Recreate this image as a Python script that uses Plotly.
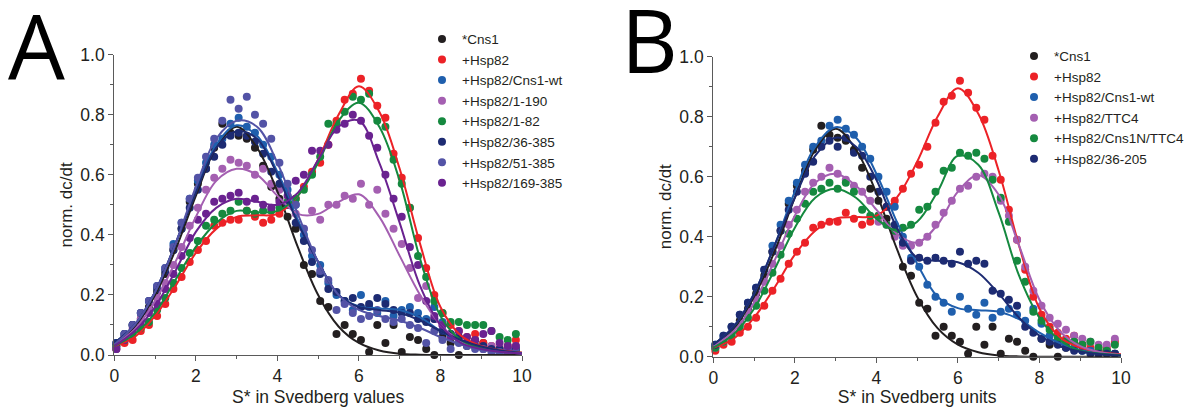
import plotly.graph_objects as go

# ---------------- data ----------------
# sampled S* positions of the measured points
S_PTS = [0.05, 0.25, 0.45, 0.65, 0.85, 1.05, 1.25, 1.45, 1.65, 1.85,
         2.05, 2.25, 2.45, 2.65, 2.85, 3.05, 3.25, 3.45, 3.65, 3.85,
         4.05, 4.25, 4.45, 4.65, 4.85, 5.05, 5.25, 5.45, 5.65, 5.85,
         6.05, 6.25, 6.45, 6.65, 6.85, 7.05, 7.25, 7.45, 7.65, 7.85,
         8.05, 8.25, 8.45, 8.65, 8.85, 9.05, 9.25, 9.45, 9.65, 9.85]
# S* positions of the fitted curves
S_FIT = [0, 0.5, 1, 1.5, 2, 2.5, 3, 3.5, 4, 4.5, 5, 5.5, 6, 6.5, 7, 7.5, 8, 8.5, 9, 9.5, 10]

# measured points
cns1_pts = [0.03, 0.06, 0.10, 0.12, 0.16, 0.21, 0.27, 0.35, 0.42, 0.51,
            0.57, 0.62, 0.69, 0.77, 0.74, 0.73, 0.72, 0.69, 0.63, 0.56,
            0.52, 0.46, 0.42, 0.30, 0.27, 0.18, 0.16, 0.07, 0.10, 0.07,
            0.05, 0.01, 0.10, 0.04, 0.10, 0.01, 0.06, 0.05, 0.02, 0.00,
            0.06, 0.04, 0.00, 0.03, 0.05, 0.04, 0.02, 0.01, 0.02, 0.01]
hsp82_pts = [0.02, 0.04, 0.05, 0.08, 0.10, 0.13, 0.17, 0.22, 0.26, 0.31,
             0.35, 0.38, 0.43, 0.44, 0.45, 0.45, 0.48, 0.46, 0.44, 0.45,
             0.47, 0.50, 0.52, 0.56, 0.61, 0.64, 0.70, 0.78, 0.85, 0.87,
             0.92, 0.88, 0.83, 0.79, 0.67, 0.59, 0.49, 0.39, 0.29, 0.20,
             0.14, 0.10, 0.08, 0.06, 0.07, 0.04, 0.03, 0.02, 0.03, 0.05]
cns1wt_pts = [0.04, 0.07, 0.10, 0.14, 0.18, 0.23, 0.29, 0.37, 0.44, 0.52,
              0.58, 0.64, 0.70, 0.72, 0.77, 0.79, 0.76, 0.74, 0.70, 0.66,
              0.60, 0.55, 0.50, 0.40, 0.33, 0.30, 0.24, 0.20, 0.18, 0.15,
              0.20, 0.16, 0.14, 0.18, 0.13, 0.15, 0.16, 0.14, 0.12, 0.16,
              0.11, 0.07, 0.05, 0.04, 0.03, 0.02, 0.02, 0.01, 0.02, 0.01]
h1_190_pts = [0.03, 0.06, 0.09, 0.12, 0.15, 0.19, 0.24, 0.30, 0.36, 0.43,
              0.49, 0.55, 0.59, 0.62, 0.65, 0.64, 0.63, 0.60, 0.62, 0.57,
              0.55, 0.50, 0.47, 0.42, 0.48, 0.45, 0.50, 0.50, 0.53, 0.52,
              0.57, 0.50, 0.55, 0.47, 0.42, 0.37, 0.29, 0.19, 0.23, 0.12,
              0.10, 0.07, 0.05, 0.04, 0.03, 0.02, 0.03, 0.02, 0.01, 0.03]
h1_82_pts = [0.03, 0.05, 0.07, 0.09, 0.11, 0.15, 0.19, 0.24, 0.29, 0.34,
             0.38, 0.43, 0.45, 0.47, 0.48, 0.51, 0.48, 0.47, 0.48, 0.48,
             0.49, 0.51, 0.52, 0.55, 0.60, 0.66, 0.77, 0.77, 0.81, 0.86,
             0.85, 0.87, 0.78, 0.76, 0.65, 0.57, 0.49, 0.33, 0.26, 0.18,
             0.14, 0.11, 0.11, 0.10, 0.10, 0.10, 0.08, 0.06, 0.05, 0.07]
h36_385_pts = [0.04, 0.07, 0.10, 0.14, 0.18, 0.22, 0.28, 0.35, 0.42, 0.49,
               0.55, 0.62, 0.66, 0.70, 0.73, 0.74, 0.73, 0.71, 0.67, 0.61,
               0.57, 0.50, 0.44, 0.38, 0.31, 0.27, 0.22, 0.21, 0.18, 0.19,
               0.16, 0.17, 0.19, 0.17, 0.15, 0.14, 0.14, 0.12, 0.11, 0.12,
               0.08, 0.07, 0.06, 0.04, 0.03, 0.03, 0.02, 0.02, 0.01, 0.02]
h51_385_pts = [0.02, 0.07, 0.10, 0.14, 0.18, 0.23, 0.29, 0.36, 0.44, 0.52,
               0.59, 0.66, 0.72, 0.78, 0.85, 0.82, 0.86, 0.80, 0.77, 0.72,
               0.64, 0.57, 0.50, 0.42, 0.35, 0.28, 0.25, 0.15, 0.17, 0.14,
               0.12, 0.13, 0.15, 0.12, 0.11, 0.12, 0.10, 0.09, 0.04, 0.08,
               0.05, 0.02, 0.04, 0.03, 0.02, 0.02, 0.01, 0.01, 0.02, 0.01]
h169_385_pts = [0.02, 0.05, 0.08, 0.11, 0.14, 0.17, 0.22, 0.27, 0.33, 0.39,
                0.45, 0.47, 0.51, 0.52, 0.53, 0.54, 0.51, 0.52, 0.50, 0.49,
                0.51, 0.53, 0.58, 0.60, 0.68, 0.68, 0.70, 0.75, 0.77, 0.80,
                0.78, 0.73, 0.69, 0.60, 0.52, 0.46, 0.36, 0.30, 0.18, 0.13,
                0.10, 0.06, 0.08, 0.06, 0.05, 0.07, 0.08, 0.04, 0.03, 0.03]
ttc4_pts = [0.03, 0.05, 0.08, 0.11, 0.15, 0.19, 0.25, 0.31, 0.37, 0.44,
            0.49, 0.55, 0.58, 0.60, 0.63, 0.61, 0.59, 0.57, 0.55, 0.52,
            0.45, 0.44, 0.40, 0.37, 0.37, 0.38, 0.40, 0.44, 0.48, 0.52,
            0.56, 0.57, 0.60, 0.61, 0.60, 0.52, 0.47, 0.39, 0.30, 0.22,
            0.17, 0.13, 0.11, 0.09, 0.07, 0.06, 0.05, 0.04, 0.04, 0.06]
cns1n_ttc4_pts = [0.03, 0.05, 0.07, 0.10, 0.13, 0.17, 0.22, 0.28, 0.34, 0.41,
                  0.46, 0.51, 0.55, 0.56, 0.58, 0.56, 0.58, 0.55, 0.49, 0.47,
                  0.47, 0.44, 0.42, 0.43, 0.44, 0.49, 0.50, 0.55, 0.62, 0.63,
                  0.68, 0.67, 0.68, 0.66, 0.59, 0.53, 0.45, 0.32, 0.25, 0.15,
                  0.12, 0.09, 0.06, 0.05, 0.05, 0.04, 0.05, 0.03, 0.02, 0.04]
h36_205_pts = [0.04, 0.07, 0.10, 0.14, 0.18, 0.23, 0.29, 0.35, 0.42, 0.49,
               0.55, 0.61, 0.65, 0.70, 0.72, 0.70, 0.73, 0.68, 0.67, 0.60,
               0.55, 0.50, 0.44, 0.38, 0.32, 0.33, 0.32, 0.33, 0.32, 0.31,
               0.35, 0.31, 0.32, 0.31, 0.22, 0.21, 0.19, 0.17, 0.10, 0.08,
               0.06, 0.05, 0.04, 0.03, 0.02, 0.02, 0.01, 0.01, 0.01, 0.01]

# fitted curves
cns1_fit = [0.04, 0.095, 0.20, 0.35, 0.53, 0.69, 0.76, 0.69, 0.545, 0.36, 0.20,
            0.095, 0.04, 0.015, 0.004, 0.001, 0, 0, 0, 0, 0]
hsp82_fit = [0.03, 0.06, 0.13, 0.23, 0.34, 0.42, 0.46, 0.465, 0.47, 0.53, 0.65,
             0.80, 0.895, 0.81, 0.62, 0.37, 0.16, 0.065, 0.03, 0.015, 0.008]
cns1wt_fit = [0.04, 0.10, 0.21, 0.37, 0.55, 0.70, 0.765, 0.73, 0.61, 0.45, 0.31,
              0.20, 0.162, 0.155, 0.15, 0.125, 0.08, 0.045, 0.022, 0.011, 0.006]
h1_190_fit = [0.035, 0.085, 0.18, 0.31, 0.46, 0.58, 0.62, 0.60, 0.53, 0.47, 0.47,
              0.51, 0.535, 0.46, 0.33, 0.20, 0.10, 0.045, 0.02, 0.01, 0.005]
h1_82_fit = [0.03, 0.07, 0.14, 0.25, 0.36, 0.44, 0.48, 0.475, 0.48, 0.53, 0.64,
             0.78, 0.84, 0.76, 0.58, 0.32, 0.13, 0.05, 0.022, 0.012, 0.007]
h36_385_fit = [0.04, 0.10, 0.21, 0.37, 0.54, 0.69, 0.745, 0.72, 0.60, 0.44, 0.31,
               0.20, 0.16, 0.15, 0.14, 0.115, 0.08, 0.05, 0.028, 0.014, 0.007]
h51_385_fit = [0.035, 0.10, 0.21, 0.37, 0.56, 0.72, 0.78, 0.76, 0.64, 0.47, 0.31,
               0.20, 0.15, 0.13, 0.115, 0.09, 0.06, 0.035, 0.018, 0.009, 0.005]
h169_385_fit = [0.03, 0.08, 0.16, 0.28, 0.41, 0.49, 0.52, 0.51, 0.50, 0.54, 0.65,
                0.76, 0.78, 0.64, 0.44, 0.23, 0.10, 0.04, 0.02, 0.01, 0.005]
ttc4_fit = [0.035, 0.085, 0.18, 0.32, 0.47, 0.58, 0.61, 0.57, 0.49, 0.41, 0.38,
            0.44, 0.55, 0.605, 0.54, 0.37, 0.19, 0.085, 0.035, 0.015, 0.006]
cns1n_ttc4_fit = [0.03, 0.075, 0.16, 0.29, 0.43, 0.53, 0.56, 0.53, 0.46, 0.42, 0.45,
                  0.55, 0.67, 0.64, 0.48, 0.27, 0.13, 0.055, 0.02, 0.01, 0.005]
h36_205_fit = [0.04, 0.10, 0.21, 0.37, 0.53, 0.67, 0.73, 0.70, 0.59, 0.43, 0.33,
               0.32, 0.315, 0.28, 0.21, 0.13, 0.07, 0.035, 0.017, 0.008, 0.004]

X_TICKS = [0, 2, 4, 6, 8, 10]
Y_TICKS = [0.0, 0.2, 0.4, 0.6, 0.8, 1.0]

COL = {
    "black": "#231f20", "red": "#ec2227", "blue": "#1f5fad", "lilac": "#a45fb1",
    "green": "#15893f", "navy": "#1d2b72", "slate": "#5353a6", "purple": "#6a2290",
}

panel_a = [
    ("*Cns1", cns1_pts, cns1_fit, "black"),
    ("+Hsp82", hsp82_pts, hsp82_fit, "red"),
    ("+Hsp82/Cns1-wt", cns1wt_pts, cns1wt_fit, "blue"),
    ("+Hsp82/1-190", h1_190_pts, h1_190_fit, "lilac"),
    ("+Hsp82/1-82", h1_82_pts, h1_82_fit, "green"),
    ("+Hsp82/36-385", h36_385_pts, h36_385_fit, "navy"),
    ("+Hsp82/51-385", h51_385_pts, h51_385_fit, "slate"),
    ("+Hsp82/169-385", h169_385_pts, h169_385_fit, "purple"),
]
panel_b = [
    ("*Cns1", cns1_pts, cns1_fit, "black"),
    ("+Hsp82", hsp82_pts, hsp82_fit, "red"),
    ("+Hsp82/Cns1-wt", cns1wt_pts, cns1wt_fit, "blue"),
    ("+Hsp82/TTC4", ttc4_pts, ttc4_fit, "lilac"),
    ("+Hsp82/Cns1N/TTC4", cns1n_ttc4_pts, cns1n_ttc4_fit, "green"),
    ("+Hsp82/36-205", h36_205_pts, h36_205_fit, "navy"),
]

fig = go.Figure()

def add_panel(series, xa, ya, legend):
    for name, pts, fit, c in series:
        fig.add_trace(go.Scatter(x=S_PTS, y=pts, mode="markers", name=name,
                                 marker=dict(size=8, color=COL[c]),
                                 xaxis=xa, yaxis=ya, legend=legend, cliponaxis=False))
    for name, pts, fit, c in series:
        fig.add_trace(go.Scatter(x=S_FIT, y=fit, mode="lines", name=name,
                                 line=dict(color=COL[c], width=2, shape="spline", smoothing=1.0),
                                 xaxis=xa, yaxis=ya, showlegend=False, hoverinfo="skip"))

add_panel(panel_a, "x", "y", "legend")
add_panel(panel_b, "x2", "y2", "legend2")

# the page body has an 8px margin, so the figure is 16px smaller than the window
W, H = 1188, 399
AX_COL = "#5a5a5a"
TXT = "#231f20"
FONT = "Liberation Sans, Arial, sans-serif"

def px(x):
    return x / W

def py(y):
    return 1 - y / H

def xax(domain, title):
    return dict(domain=domain, range=[0, 10], tickvals=X_TICKS, ticks="outside",
                ticklen=5, tickwidth=1.3, tickcolor=AX_COL, showline=True,
                linecolor=AX_COL, linewidth=1.3, showgrid=False, zeroline=False,
                automargin=False,
                minor=dict(ticks="outside", ticklen=3, dtick=1, tickcolor=AX_COL, tickwidth=1.2),
                tickfont=dict(size=17.5, color=TXT, family=FONT),
                title=dict(text=title, font=dict(size=17.5, color=TXT, family=FONT), standoff=15))

def yax(domain, anchor):
    return dict(domain=domain, range=[0, 1], tickvals=Y_TICKS, tickformat=".1f",
                ticks="outside", ticklen=5, tickwidth=1.3, tickcolor=AX_COL,
                showline=True, linecolor=AX_COL, linewidth=1.3, showgrid=False,
                zeroline=False, anchor=anchor, automargin=False,
                minor=dict(ticks="outside", ticklen=3, dtick=0.1, tickcolor=AX_COL, tickwidth=1.2),
                tickfont=dict(size=17.5, color=TXT, family=FONT),
                title=dict(text="norm. dc/dt", font=dict(size=17, color=TXT, family=FONT), standoff=3))

fig.update_layout(
    template="none",
    width=W, height=H, margin=dict(l=0, r=0, t=0, b=0, autoexpand=False),
    paper_bgcolor="white", plot_bgcolor="white",
    font=dict(family=FONT, color=TXT),
    xaxis=dict(anchor="y", **xax([px(106.3), px(514)], "S* in Svedberg values")),
    yaxis=yax([py(347), py(46.7)], "x"),
    xaxis2=dict(anchor="y2", **xax([px(705.3), px(1113)], "S* in Svedberg units")),
    yaxis2=yax([py(348.7), py(48.7)], "x2"),
    legend=dict(x=px(414), y=py(15.7), xanchor="left", yanchor="top",
                bgcolor="rgba(0,0,0,0)", font=dict(size=13.5, color=TXT, family=FONT),
                tracegroupgap=0),
    legend2=dict(x=px(1006), y=py(32.7), xanchor="left", yanchor="top",
                 bgcolor="rgba(0,0,0,0)", font=dict(size=13.5, color=TXT, family=FONT),
                 tracegroupgap=0),
    showlegend=True,
    annotations=[
        dict(text="A", x=px(28), y=py(36), xref="paper", yref="paper",
             xanchor="center", yanchor="middle", showarrow=False,
             font=dict(size=90, color="#000000", family="Open Sans")),
        dict(text="B", x=px(641), y=py(31), xref="paper", yref="paper",
             xanchor="center", yanchor="middle", showarrow=False,
             font=dict(size=88, color="#000000", family="Open Sans")),
    ],
)

fig.write_html("out.html")
